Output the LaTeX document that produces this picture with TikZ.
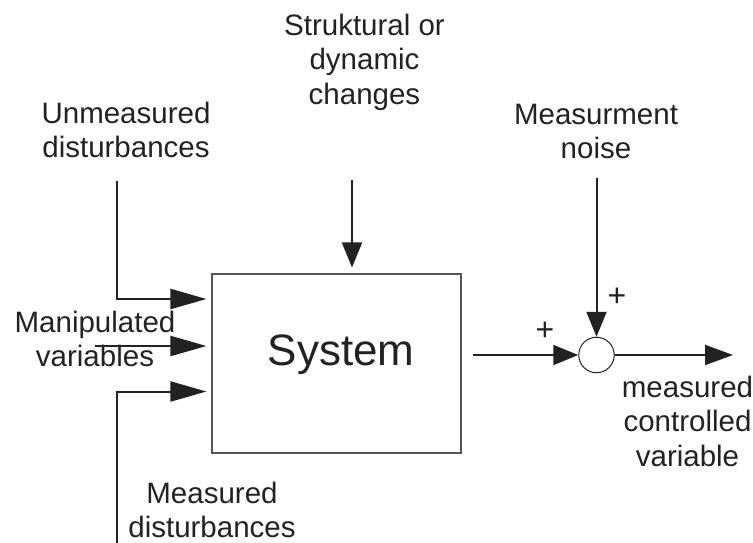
\documentclass[tikz,border=0pt]{standalone}
\usepackage{fontspec}
\setmainfont{Liberation Sans}
\usetikzlibrary{arrows.meta}
\definecolor{ink}{HTML}{222222}
\definecolor{edge}{HTML}{555555}
% fixed height for the first line of every label, so anchor=north is predictable
\newcommand{\firstline}{\rule{0pt}{25pt}}
\begin{document}
\begin{tikzpicture}[x=1pt,y=-1pt,
  lbl/.style={font=\fontsize{29.5}{34.5}\selectfont, align=center, inner sep=0pt,
              anchor=north, text=ink},
  sign/.style={font=\fontsize{32}{36}\selectfont, inner sep=0pt, text=ink},
  conn/.style={line width=2pt, draw=ink},
  headlong/.style={-{Triangle[length=36pt,width=20pt]}},
  headshort/.style={-{Triangle[length=25pt,width=20pt]}},
]
\useasboundingbox (0,0) rectangle (753,543);

% the plant block
\node[draw=edge, line width=1.1pt, minimum width=249pt, minimum height=179pt,
      inner sep=0pt] (sys) at (336.5,363.5) {};
\node[font=\fontsize{44}{50}\selectfont, anchor=base, text=ink] (systxt) at (341,365) {System};

% summing junction
\node[circle, draw=ink, line width=1pt, minimum size=35.5pt, inner sep=0pt] (sum) at (596.5,355) {};

% labels
\node[lbl] (struct) at (364.5,10) {\firstline Struktural or\\dynamic\\changes};
\node[lbl] (unmeas) at (126,98) {\firstline Unmeasured\\disturbances};
\node[lbl] (manip)  at (95,307) {\firstline Manipulated\\variables};
\node[lbl] (meas)   at (212,478) {\firstline Measured\\disturbances};
\node[lbl] (noise)  at (596,99) {\firstline Measurment\\noise};
\node[lbl] (output) at (687.5,372) {\firstline measured\\controlled\\variable};
\node[sign] (plusin)    at (545,331) {+};
\node[sign] (plusnoise) at (617,297) {+};

% free ends and bends of the connectors
\coordinate (ud-top)    at (117,181);
\coordinate (ud-corner) at (117,299);
\coordinate (mv-start)  at (95,346);
\coordinate (md-bottom) at (117,543);
\coordinate (md-corner) at (117,391.5);
\coordinate (sc-start)  at (352,180);
\coordinate (out-start) at (473,355);
\coordinate (mn-start)  at (596.5,178);
\coordinate (mc-end)    at (733,355);

% inputs to the block
\draw[conn,headlong,shorten >=5pt] (ud-top) -- (ud-corner) -- (sys.west |- ud-corner);
\draw[conn,headlong,shorten >=5pt] (mv-start) -- (sys.west |- mv-start);
\draw[conn,headlong,shorten >=5pt] (md-bottom) -- (md-corner) -- (sys.west |- md-corner);
\draw[conn,headshort,shorten >=6pt] (sc-start) -- (sc-start |- sys.north);

% output path through the junction
\draw[conn,headshort] (out-start) -- (sum.west);
\draw[conn,headshort] (mn-start) -- (sum.north);
\draw[conn,-{Triangle[length=28pt,width=20pt]}] (sum.east) -- (mc-end);
\end{tikzpicture}
\end{document}
